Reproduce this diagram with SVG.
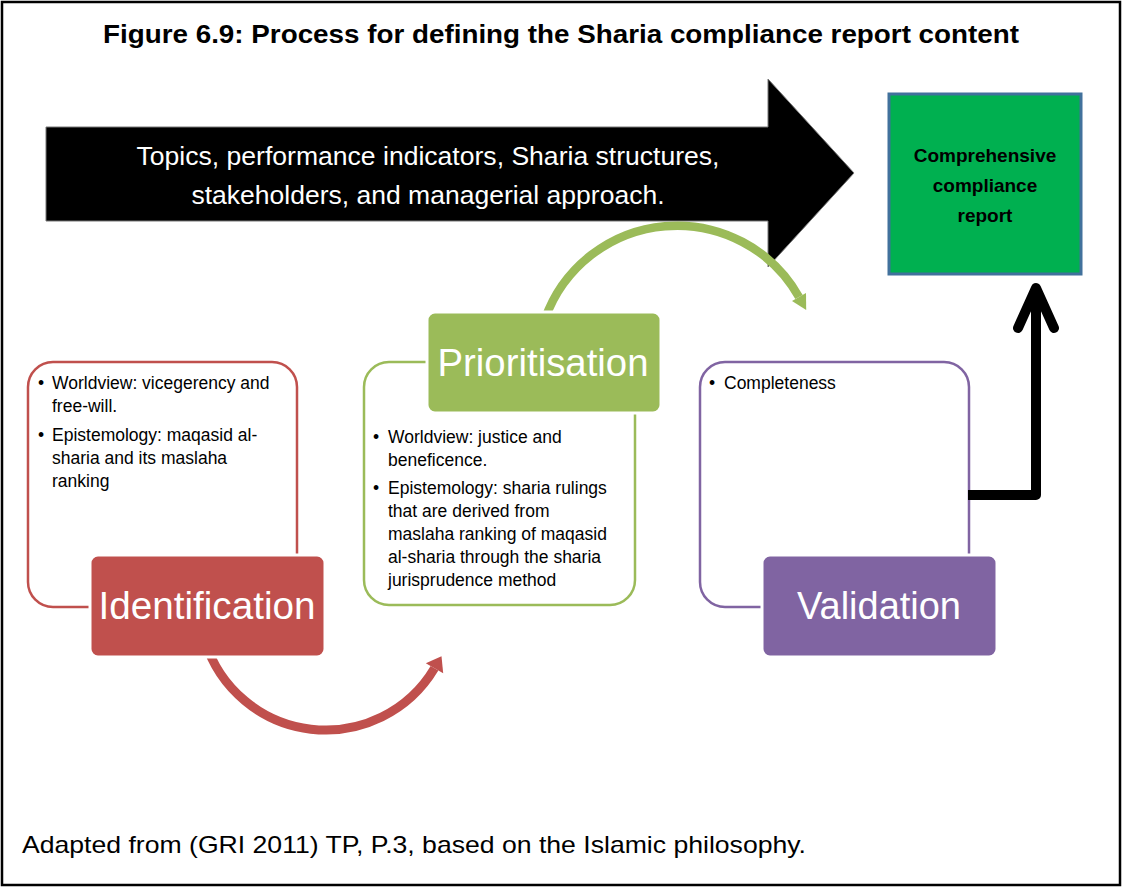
<svg xmlns="http://www.w3.org/2000/svg" width="1124" height="888" viewBox="0 0 1124 888">
<style>
.t{font-family:"Liberation Sans",Arial,sans-serif}
.body{font-size:17.5px;fill:#000}
.lbl{font-size:38px;fill:#fff;text-anchor:middle}
.out{fill:#fff;stroke-width:2.5}
.tag{stroke:#fff;stroke-width:3}
</style>
<rect x="2" y="2" width="1118" height="883" fill="#fff" stroke="#000" stroke-width="2.5"/>
<text class="t" x="561" y="43" font-size="26" font-weight="bold" text-anchor="middle" textLength="916" lengthAdjust="spacingAndGlyphs">Figure 6.9: Process for defining the Sharia compliance report content</text>

<g id="big-arrow">
<polygon points="46,127 768,127 768,79 854,173 768,267 768,221 46,221" fill="#000" stroke="#777" stroke-width="1"/>
<text class="t" x="428" y="165" font-size="26.5" fill="#fff" text-anchor="middle" textLength="583" lengthAdjust="spacingAndGlyphs">Topics, performance indicators, Sharia structures,</text>
<text class="t" x="428" y="204" font-size="26.5" fill="#fff" text-anchor="middle" textLength="473" lengthAdjust="spacingAndGlyphs">stakeholders, and managerial approach.</text>
</g>

<g id="report">
<rect x="889" y="94" width="192" height="180" fill="#00B050" stroke="#41719C" stroke-width="3"/>
<text class="t" x="985" y="162" font-size="19" font-weight="bold" text-anchor="middle">Comprehensive</text>
<text class="t" x="985" y="192" font-size="19" font-weight="bold" text-anchor="middle">compliance</text>
<text class="t" x="985" y="222" font-size="19" font-weight="bold" text-anchor="middle">report</text>
</g>

<g id="connectors" fill="none">
<path d="M205,641 A126.5 126.5 0 0 0 434.5,668.3" stroke="#C0504D" stroke-width="9"/>
<polygon points="441.5,656.2 443.2,673.3 425.8,663.3" fill="#C0504D"/>
<path d="M970,495 L1036,495 L1036,292" stroke="#000" stroke-width="10" stroke-linejoin="round"/>
<polyline points="1018,328 1036,288 1054,328" stroke="#000" stroke-width="10" stroke-linecap="round" stroke-linejoin="round"/>
</g>

<g id="identification">
<rect class="out" x="28" y="362" width="269" height="245" rx="25" stroke="#C0504D"/>
<text class="t body" x="38" y="389">•</text>
<text class="t body" x="52" y="389">Worldview: vicegerency and</text>
<text class="t body" x="52" y="412">free-will.</text>
<text class="t body" x="38" y="441">•</text>
<text class="t body" x="52" y="441">Epistemology: maqasid al-</text>
<text class="t body" x="52" y="464">sharia and its maslaha</text>
<text class="t body" x="52" y="487">ranking</text>
<rect class="tag" x="90" y="555" width="235" height="102" rx="8" fill="#C0504D"/>
<text class="t lbl" x="207" y="619" textLength="217" lengthAdjust="spacingAndGlyphs">Identification</text>
</g>

<g id="prioritisation">
<path d="M545,319 A140 140 0 0 1 799,297" fill="none" stroke="#9BBB59" stroke-width="8.5"/>
<polygon points="806.2,309.9 806,293.1 792,300.9" fill="#9BBB59"/>
<rect class="out" x="364" y="362" width="271" height="243" rx="25" stroke="#9BBB59"/>
<text class="t body" x="373" y="443">•</text>
<text class="t body" x="388" y="443">Worldview: justice and</text>
<text class="t body" x="388" y="466">beneficence.</text>
<text class="t body" x="373" y="494">•</text>
<text class="t body" x="388" y="494">Epistemology: sharia rulings</text>
<text class="t body" x="388" y="517">that are derived from</text>
<text class="t body" x="388" y="540">maslaha ranking of maqasid</text>
<text class="t body" x="388" y="563">al-sharia through the sharia</text>
<text class="t body" x="388" y="586">jurisprudence method</text>
<rect class="tag" x="427" y="312" width="234" height="101" rx="8" fill="#9BBB59"/>
<text class="t lbl" x="543" y="376" textLength="211" lengthAdjust="spacingAndGlyphs">Prioritisation</text>
</g>

<g id="validation">
<rect class="out" x="700" y="362" width="269" height="245" rx="25" stroke="#8064A2"/>
<text class="t body" x="709" y="389">•</text>
<text class="t body" x="724" y="389">Completeness</text>
<rect class="tag" x="762" y="555" width="235" height="102" rx="8" fill="#8064A2"/>
<text class="t lbl" x="879" y="619" textLength="164" lengthAdjust="spacingAndGlyphs">Validation</text>
</g>

<path d="M968,495 L975,495" stroke="#000" stroke-width="10"/>

<text class="t" x="22" y="853" font-size="24" textLength="784" lengthAdjust="spacingAndGlyphs">Adapted from (GRI 2011) TP, P.3, based on the Islamic philosophy.</text>
</svg>
